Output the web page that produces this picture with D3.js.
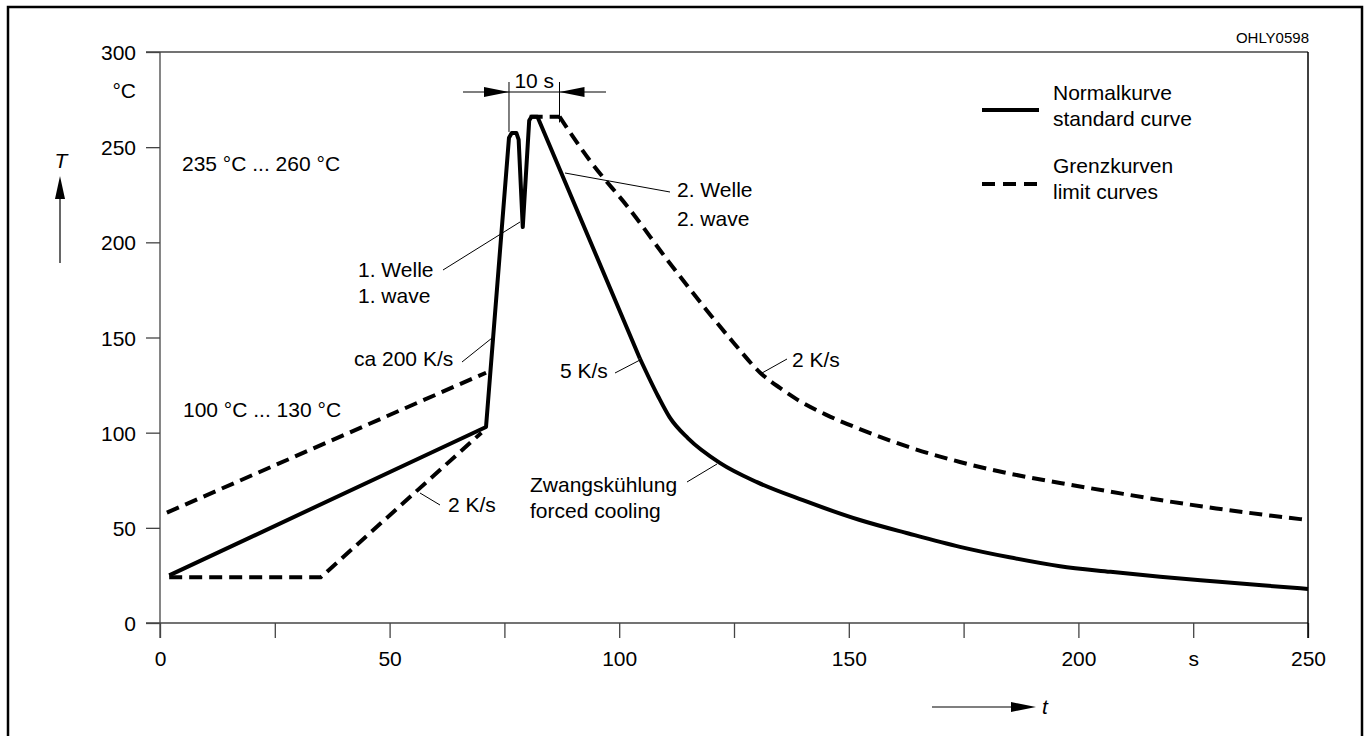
<!DOCTYPE html>
<html>
<head>
<meta charset="utf-8">
<script src="https://cdn.jsdelivr.net/npm/d3@7"></script>
<style>
  body { margin: 0; background: #fff; }
  svg text { font-family: "Liberation Sans", Arial, Helvetica, sans-serif; fill: #000; }
</style>
</head>
<body>
<svg id="chart" width="1371" height="736"></svg>
<script>
// values (t in s, T in °C)
var xTicks = [0, 25, 50, 75, 100, 125, 150, 175, 200, 225, 250];
var xTickLabels = ['0', '', '50', '', '100', '', '150', '', '200', 's', '250'];
var yTicks = [0, 50, 100, 150, 200, 250, 300];
var yTickLabels = ['0', '50', '100', '150', '200', '250', '300'];

// Normalkurve: preheat ramp, two waves and the straight 5 K/s drop
var solidRamp = [[2, 25], [71, 103], [76, 255], [76.6, 257.5], [77.6, 257.5], [78.1, 254],
  [79, 208], [80.4, 264], [80.9, 266], [82.2, 266], [104.5, 139]];
// Normalkurve: forced cooling tail
var solidCool = [[104.5, 139], [108.5, 119], [111, 108], [115, 97], [122, 84], [130, 74],
  [140, 64.5], [152.4, 54.1], [163, 47], [174.2, 40], [185, 34.5], [196, 29.8],
  [207, 26.9], [217.8, 24.3], [230, 21.8], [240, 19.8], [250, 17.9]];

// Grenzkurven
var limitUpperPre = [[1.5, 58], [71, 131.5]];
var limitLowerPre = [[2, 24], [35, 24], [70, 100]];
var limitTop = [[80.5, 266], [87, 266]];
var limitCool = [[87, 266], [93.6, 243], [102.4, 217], [110.4, 191], [119, 164.5],
  [125, 147], [130.7, 131.5], [135, 123.5], [138.7, 117.5], [145, 109.5], [152.4, 101.9],
  [163, 92.5], [174.2, 84.6], [185, 78.5], [196, 73.6], [207, 69], [217.8, 64.6],
  [230, 60.2], [240, 57], [250, 54.1]];

// dimension "10 s" between these two times
var waveSpan = [76, 87];

document.addEventListener("DOMContentLoaded", function() {
  var svg = d3.select('#chart');

  var x = d3.scaleLinear().domain([0, 250]).range([160, 1308]);
  var y = d3.scaleLinear().domain([0, 300]).range([623, 52]);

  // outer frame
  svg.append('rect')
    .attr('x', 8).attr('y', 7)
    .attr('width', 1354).attr('height', 760)
    .attr('fill', 'none').attr('stroke', '#000').attr('stroke-width', 2.5);

  // axes, drawn as thin lines with ticks crossing at the origin
  var axisColor = '#444';
  var xAxis = d3.axisBottom(x).tickValues(xTicks).tickSize(15)
    .tickFormat(function(d, i) { return xTickLabels[i]; });
  var gx = svg.append('g').attr('transform', 'translate(0,' + y(0) + ')').call(xAxis);
  gx.select('.domain').remove();
  gx.selectAll('line').attr('stroke', axisColor).attr('stroke-width', 1.3);
  gx.selectAll('text').attr('font-size', 21).attr('dy', 0).attr('y', 43)
    .attr('font-family', '"Liberation Sans", Arial, sans-serif');

  var yAxis = d3.axisLeft(y).tickValues(yTicks).tickSize(14)
    .tickFormat(function(d, i) { return yTickLabels[i]; });
  var gy = svg.append('g').attr('transform', 'translate(' + x(0) + ',0)').call(yAxis);
  gy.select('.domain').remove();
  gy.selectAll('line').attr('stroke', axisColor).attr('stroke-width', 1.3);
  gy.selectAll('text').attr('font-size', 21).attr('x', -24).attr('dy', '0.36em')
    .attr('font-family', '"Liberation Sans", Arial, sans-serif');

  // axis lines and the top / right frame of the plot
  svg.append('line').attr('x1', x(0)).attr('x2', x(0)).attr('y1', y(300)).attr('y2', y(0) + 15)
    .attr('stroke', axisColor).attr('stroke-width', 1.3);
  svg.append('line').attr('x1', x(0) - 14).attr('x2', x(250)).attr('y1', y(0)).attr('y2', y(0))
    .attr('stroke', axisColor).attr('stroke-width', 1.3);
  svg.append('line').attr('x1', x(0) - 14).attr('x2', x(250)).attr('y1', y(300)).attr('y2', y(300))
    .attr('stroke', axisColor).attr('stroke-width', 1.3);
  svg.append('line').attr('x1', x(250)).attr('x2', x(250)).attr('y1', y(300)).attr('y2', y(0) + 15)
    .attr('stroke', '#000').attr('stroke-width', 1.5);

  // unit labels
  svg.append('text').attr('x', 136).attr('y', 98).attr('text-anchor', 'end')
    .attr('font-size', 21).text('°C');
  svg.append('text').attr('x', 1309).attr('y', 43).attr('text-anchor', 'end')
    .attr('font-size', 15).text('OHLY0598');

  // T and t axis arrows
  svg.append('text').attr('x', 61).attr('y', 168).attr('text-anchor', 'middle')
    .attr('font-size', 21).attr('font-style', 'italic').text('T');
  svg.append('line').attr('x1', 60).attr('x2', 60).attr('y1', 190).attr('y2', 263)
    .attr('stroke', '#000').attr('stroke-width', 1.2);
  svg.append('path').attr('d', 'M60,176 L55,199 L65,199 Z').attr('fill', '#000');

  svg.append('line').attr('x1', 932).attr('x2', 1015).attr('y1', 707).attr('y2', 707)
    .attr('stroke', '#000').attr('stroke-width', 1.2);
  svg.append('path').attr('d', 'M1036,707 L1011,702 L1011,712 Z').attr('fill', '#000');
  svg.append('text').attr('x', 1042).attr('y', 714)
    .attr('font-size', 21).attr('font-style', 'italic').text('t');

  // curves
  var lineLinear = d3.line()
    .x(function(d) { return x(d[0]); })
    .y(function(d) { return y(d[1]); });
  var lineSmooth = d3.line()
    .x(function(d) { return x(d[0]); })
    .y(function(d) { return y(d[1]); })
    .curve(d3.curveMonotoneX);

  function drawCurve(data, gen, dashed) {
    var p = svg.append('path')
      .attr('d', gen(data))
      .attr('fill', 'none')
      .attr('stroke', '#000')
      .attr('stroke-width', 4)
      .attr('stroke-linejoin', 'round');
    if (dashed) p.attr('stroke-dasharray', '13,7');
    return p;
  }

  drawCurve(limitUpperPre, lineLinear, true);
  drawCurve(limitLowerPre, lineLinear, true).attr('stroke-linejoin', 'miter');
  drawCurve(limitTop, lineLinear, true);
  drawCurve(limitCool, lineSmooth, true);
  drawCurve(solidRamp, lineLinear, false);
  drawCurve(solidCool, lineSmooth, false);

  // "10 s" dimension
  var dimY = 92;
  svg.append('line').attr('x1', 463).attr('x2', 606).attr('y1', dimY).attr('y2', dimY)
    .attr('stroke', '#000').attr('stroke-width', 1.2);
  svg.append('line').attr('x1', x(waveSpan[0])).attr('x2', x(waveSpan[0]))
    .attr('y1', 82).attr('y2', y(258)).attr('stroke', '#000').attr('stroke-width', 1);
  svg.append('line').attr('x1', x(waveSpan[1])).attr('x2', x(waveSpan[1]))
    .attr('y1', 82).attr('y2', y(263)).attr('stroke', '#000').attr('stroke-width', 1);
  var xa = x(waveSpan[0]), xb = x(waveSpan[1]);
  svg.append('path').attr('d', 'M' + xa + ',' + dimY + ' L' + (xa - 25) + ',' + (dimY - 5) +
    ' L' + (xa - 25) + ',' + (dimY + 5) + ' Z').attr('fill', '#000');
  svg.append('path').attr('d', 'M' + xb + ',' + dimY + ' L' + (xb + 25) + ',' + (dimY - 5) +
    ' L' + (xb + 25) + ',' + (dimY + 5) + ' Z').attr('fill', '#000');
  svg.append('text').attr('x', (xa + xb) / 2).attr('y', 88).attr('text-anchor', 'middle')
    .attr('font-size', 21).text('10 s');

  // annotation texts
  var notes = [
    { x: 182, y: 171, t: '235 °C ... 260 °C' },
    { x: 183, y: 417, t: '100 °C ... 130 °C' },
    { x: 358, y: 277, t: '1. Welle' },
    { x: 358, y: 303, t: '1. wave' },
    { x: 354, y: 366, t: 'ca 200 K/s' },
    { x: 677, y: 197, t: '2. Welle' },
    { x: 677, y: 226, t: '2. wave' },
    { x: 560, y: 378, t: '5 K/s' },
    { x: 792, y: 367, t: '2 K/s' },
    { x: 448, y: 512, t: '2 K/s' },
    { x: 530, y: 492, t: 'Zwangskühlung' },
    { x: 530, y: 518, t: 'forced cooling' }
  ];
  svg.selectAll('.note').data(notes).enter().append('text')
    .attr('class', 'note')
    .attr('x', function(d) { return d.x; })
    .attr('y', function(d) { return d.y; })
    .attr('font-size', 21)
    .text(function(d) { return d.t; });

  // leader lines
  var leaders = [
    [443, 270, 520, 222],
    [462, 362, 492, 338],
    [670, 192, 565, 173],
    [615, 373, 640, 360],
    [787, 359, 762, 373],
    [687, 482, 717, 464],
    [440, 505, 420, 493]
  ];
  svg.selectAll('.leader').data(leaders).enter().append('line')
    .attr('class', 'leader')
    .attr('x1', function(d) { return d[0]; })
    .attr('y1', function(d) { return d[1]; })
    .attr('x2', function(d) { return d[2]; })
    .attr('y2', function(d) { return d[3]; })
    .attr('stroke', '#000').attr('stroke-width', 1);

  // legend
  var legend = [
    { y: 110, dashed: false, lines: ['Normalkurve', 'standard curve'], ty: 100 },
    { y: 184, dashed: true, lines: ['Grenzkurven', 'limit curves'], ty: 173 }
  ];
  legend.forEach(function(d) {
    var l = svg.append('line').attr('x1', 982).attr('x2', 1039).attr('y1', d.y).attr('y2', d.y)
      .attr('stroke', '#000').attr('stroke-width', 4);
    if (d.dashed) l.attr('stroke-dasharray', '13,8');
    d.lines.forEach(function(s, i) {
      svg.append('text').attr('x', 1053).attr('y', d.ty + i * 26)
        .attr('font-size', 21).text(s);
    });
  });
});
</script>
</body>
</html>
